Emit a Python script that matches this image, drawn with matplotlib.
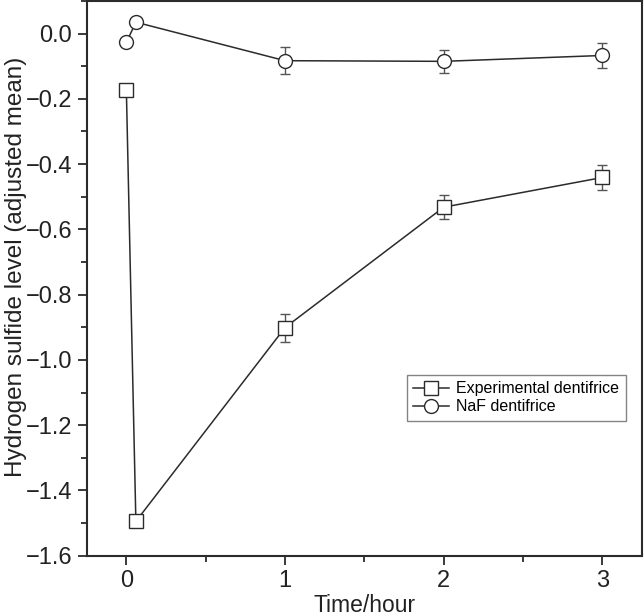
import matplotlib
matplotlib.use("Agg")
import matplotlib.pyplot as plt
from matplotlib.ticker import MultipleLocator, FuncFormatter
from matplotlib.lines import Line2D

plt.rcParams['font.family'] = ['Liberation Sans', 'DejaVu Sans']

# Data
exp_x = [0.0, 0.06, 1.0, 2.0, 3.0]
exp_y = [-0.172, -1.495, -0.901, -0.532, -0.441]
exp_err = [0.018, 0.0, 0.043, 0.037, 0.039]

naf_x = [0.0, 0.06, 1.0, 2.0, 3.0]
naf_y = [-0.027, 0.035, -0.083, -0.085, -0.067]
naf_err = [0.0, 0.0, 0.041, 0.035, 0.038]

series_labels = ["Experimental dentifrice", "NaF dentifrice"]
x_label = "Time/hour"
y_label = "Hydrogen sulfide level (adjusted mean)"

fig = plt.figure(figsize=(6.44, 6.16), dpi=100)
ax = fig.add_axes([0.1346, 0.098, 0.8624, 0.9004])

dark = '#2b2b2b'
ebkw = dict(ecolor='#555555', elinewidth=1.0, capsize=3.4, capthick=1.0)

ax.errorbar(exp_x, exp_y, yerr=exp_err, color=dark, lw=1.1, marker='s',
            ms=9.5, mfc='white', mec=dark, mew=1.0, **ebkw)
ax.errorbar(naf_x, naf_y, yerr=naf_err, color=dark, lw=1.1, marker='o',
            ms=10, mfc='white', mec=dark, mew=1.0, **ebkw)

ax.set_xlim(-0.25, 3.25)
ax.set_ylim(-1.6, 0.1)
ax.xaxis.set_major_locator(MultipleLocator(1))
ax.xaxis.set_minor_locator(MultipleLocator(0.5))
ax.yaxis.set_major_locator(MultipleLocator(0.2))
ax.yaxis.set_minor_locator(MultipleLocator(0.1))


def yfmt(v, pos):
    s = f"{v:.1f}"
    if s == "-0.0":
        s = "0.0"
    return s.replace("-", "\u2212")


ax.yaxis.set_major_formatter(FuncFormatter(yfmt))
ax.xaxis.set_major_formatter(FuncFormatter(lambda v, p: f"{v:.0f}"))

ax.tick_params(which='major', direction='out', length=6.5, width=1.3,
               labelsize=17, colors=dark, pad=4)
ax.tick_params(which='minor', direction='out', length=4.5, width=1.3, colors=dark)
ax.tick_params(axis='both', which='major', labelcolor='#222222')
for s in ax.spines.values():
    s.set_linewidth(1.5)
    s.set_color(dark)

ax.set_xlabel(x_label, fontsize=16.5, color='#222222', labelpad=1)
ax.set_ylabel(y_label, fontsize=17.5, color='#222222')
ax.yaxis.set_label_coords(-0.108, 0.52)

handles = [
    Line2D([], [], color=dark, lw=1.1, marker='s', ms=9.5, mfc='white', mec=dark, mew=1.0),
    Line2D([], [], color=dark, lw=1.1, marker='o', ms=10, mfc='white', mec=dark, mew=1.0),
]
leg = ax.legend(handles, series_labels, loc='lower right',
                bbox_to_anchor=(0.9706, 0.243), borderaxespad=0,
                fontsize=11.5, frameon=True, fancybox=False, handlelength=2.25,
                handletextpad=0.45, borderpad=0.4, labelspacing=0.2)
leg.get_frame().set_edgecolor('#666666')
leg.get_frame().set_linewidth(1.0)

fig.savefig("out.png", dpi=100)
